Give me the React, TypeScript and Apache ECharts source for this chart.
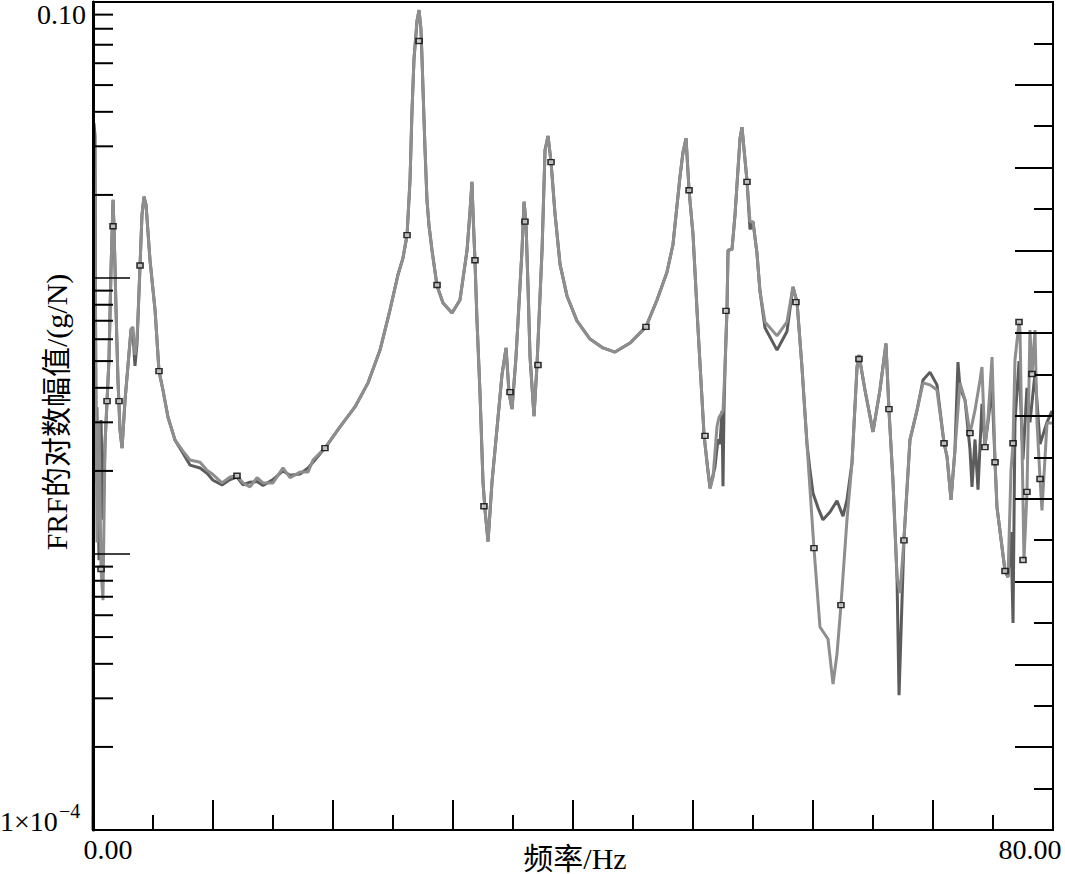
import React, { useEffect, useRef } from "react";
import * as echarts from "echarts";

// FRF magnitude (g/N) vs frequency (Hz), two measurements
const lightSeries: [number, number][] = [
  [0, 0.0001], [0.08, 0.0300], [0.17, 0.0134], [0.33, 0.0011], [0.5, 0.0030], [0.67, 0.000882],
  [0.83, 0.00068], [1.0, 0.0025], [1.17, 0.00358], [1.33, 0.00504], [1.5, 0.0107], [1.67, 0.0192],
  [1.75, 0.0154], [1.92, 0.00766], [2.08, 0.00427], [2.25, 0.00281], [2.42, 0.00242], [2.67, 0.00361],
  [2.92, 0.00484], [3.17, 0.00653], [3.33, 0.00665], [3.5, 0.00526], [3.67, 0.00601], [3.92, 0.0111],
  [4.08, 0.0169], [4.25, 0.0197], [4.42, 0.0184], [4.75, 0.0116], [5.17, 0.00766], [5.5, 0.0046],
  [5.83, 0.00393], [6.25, 0.00313], [6.83, 0.00259], [7.5, 0.00236], [8.08, 0.00219], [8.92, 0.00215],
  [9.5, 0.00201], [10.0, 0.00194], [10.75, 0.00181], [11.42, 0.0019], [12.0, 0.00192], [12.5, 0.00181],
  [13.08, 0.00175], [13.67, 0.00189], [14.17, 0.00181], [15.0, 0.00181], [15.83, 0.00205], [16.42, 0.00189],
  [17.25, 0.00198], [17.92, 0.00198], [18.33, 0.00219], [19.33, 0.00242], [20.58, 0.00289], [21.83, 0.00341],
  [22.92, 0.00417], [23.92, 0.00548], [24.75, 0.00766], [25.42, 0.0103], [25.83, 0.0118], [26.17, 0.0143],
  [26.42, 0.0227], [26.58, 0.0399], [26.75, 0.0622], [27.0, 0.0853], [27.17, 0.0935], [27.33, 0.0798],
  [27.42, 0.062], [27.5, 0.0484], [27.67, 0.0291], [27.83, 0.0192], [28.0, 0.0155], [28.25, 0.0126],
  [28.67, 0.00935], [29.17, 0.00812], [29.92, 0.00747], [30.58, 0.00832], [31.17, 0.0126], [31.42, 0.0175],
  [31.58, 0.0223], [31.67, 0.0171], [31.83, 0.0116], [32.0, 0.00699], [32.25, 0.00383], [32.5, 0.00182],
  [32.67, 0.00144], [32.92, 0.00111], [33.25, 0.00182], [33.67, 0.00286], [34.08, 0.00445], [34.42, 0.00558],
  [34.67, 0.00383], [34.92, 0.00335], [35.25, 0.00517], [35.75, 0.0126], [35.92, 0.0189], [36.08, 0.016],
  [36.25, 0.00935], [36.42, 0.00517], [36.75, 0.00316], [37.0, 0.00484], [37.42, 0.0126], [37.67, 0.0291],
  [37.92, 0.0327], [38.17, 0.0263], [38.5, 0.0171], [38.92, 0.0112], [39.5, 0.00861], [40.33, 0.00699],
  [41.42, 0.00601], [42.5, 0.00558], [43.5, 0.00539], [44.75, 0.00581], [46.08, 0.00665], [47.0, 0.00832],
  [47.83, 0.0105], [48.33, 0.0132], [48.92, 0.0234], [49.17, 0.0286], [49.42, 0.0321], [49.67, 0.0208],
  [50.0, 0.0144], [50.42, 0.00653], [50.92, 0.0027], [51.17, 0.00214], [51.42, 0.00173], [51.67, 0.0019],
  [52.0, 0.0029], [52.17, 0.00313], [52.5, 0.0033], [52.67, 0.00476], [52.83, 0.00766], [52.92, 0.0126],
  [53.25, 0.0127], [53.5, 0.0169], [53.92, 0.0321], [54.08, 0.0352], [54.5, 0.0225], [54.75, 0.016],
  [55.0, 0.016], [55.33, 0.0123], [55.58, 0.00897], [56.0, 0.00693], [57.0, 0.00617], [57.83, 0.00693],
  [58.33, 0.00928], [58.67, 0.00818], [59.08, 0.00476], [59.5, 0.0025], [60.08, 0.00105], [60.58, 0.000544],
  [61.25, 0.000492], [61.67, 0.000338], [62.0, 0.000434], [62.33, 0.000653], [62.83, 0.00133], [63.25, 0.00214],
  [63.67, 0.00476], [63.83, 0.00526], [64.33, 0.00393], [65.0, 0.00277], [65.58, 0.00393], [66.08, 0.00579],
  [66.33, 0.00332], [66.67, 0.00182], [67.0, 0.000825], [67.25, 0.000722], [67.58, 0.00113], [68.08, 0.00259],
  [68.67, 0.00332], [69.17, 0.00417], [69.75, 0.0041], [70.33, 0.00393], [70.92, 0.00252], [71.17, 0.00225],
  [71.5, 0.00157], [71.83, 0.00238], [72.25, 0.00417], [72.67, 0.00361], [73.08, 0.00272], [73.5, 0.00332],
  [73.92, 0.00427], [74.08, 0.00476], [74.33, 0.00246], [74.58, 0.00306], [74.92, 0.00517], [75.17, 0.00215],
  [75.33, 0.00148], [75.75, 0.00106], [76.0, 0.000868], [76.25, 0.000825], [76.5, 0.00201], [76.67, 0.00252],
  [76.83, 0.00504], [77.17, 0.00693], [77.25, 0.00648], [77.5, 0.00157], [77.58, 0.000951], [77.83, 0.00166],
  [78.08, 0.00648], [78.25, 0.00449], [78.5, 0.00648], [78.67, 0.00298], [78.92, 0.00187], [79.08, 0.00144],
  [79.5, 0.00298], [79.92, 0.00298],
];

const darkSeries: [number, number][] = [
  [0, 0.0001], [0.08, 0.0364], [0.17, 0.0327], [0.25, 0.00182], [0.33, 0.0034], [0.5, 0.00095],
  [0.67, 0.00306], [0.83, 0.00133], [1.0, 0.0025], [1.17, 0.00358], [1.33, 0.00504], [1.5, 0.0107],
  [1.67, 0.0192], [1.75, 0.0154], [1.92, 0.00766], [2.08, 0.00427], [2.25, 0.00281], [2.42, 0.00242],
  [2.67, 0.00361], [2.92, 0.00484], [3.17, 0.00653], [3.33, 0.0063], [3.5, 0.0048], [3.67, 0.0058],
  [3.92, 0.0111], [4.08, 0.0169], [4.25, 0.0197], [4.42, 0.0184], [4.75, 0.0116], [5.17, 0.00766],
  [5.5, 0.0046], [5.83, 0.00393], [6.25, 0.00313], [6.83, 0.00259], [7.5, 0.00232], [8.08, 0.0021],
  [8.92, 0.00205], [9.5, 0.00196], [10.0, 0.00185], [10.75, 0.00178], [11.42, 0.00186], [12.0, 0.0019],
  [12.5, 0.00178], [13.08, 0.00182], [13.67, 0.00183], [14.17, 0.00177], [15.0, 0.00186], [15.83, 0.002],
  [16.42, 0.00193], [17.25, 0.00195], [17.92, 0.00205], [18.33, 0.00215], [19.33, 0.00242], [20.58, 0.00289],
  [21.83, 0.00341], [22.92, 0.00417], [23.92, 0.00548], [24.75, 0.00766], [25.42, 0.0103], [25.83, 0.0118],
  [26.17, 0.0143], [26.42, 0.0227], [26.58, 0.0399], [26.75, 0.0622], [27.0, 0.0853], [27.17, 0.0935],
  [27.33, 0.0798], [27.42, 0.062], [27.5, 0.0484], [27.67, 0.0291], [27.83, 0.0192], [28.0, 0.0155],
  [28.25, 0.0126], [28.67, 0.00935], [29.17, 0.00812], [29.92, 0.00747], [30.58, 0.00832], [31.17, 0.0126],
  [31.42, 0.0175], [31.58, 0.0223], [31.67, 0.0171], [31.83, 0.0116], [32.0, 0.00699], [32.25, 0.00383],
  [32.5, 0.00182], [32.67, 0.00144], [32.92, 0.00111], [33.25, 0.00182], [33.67, 0.00286], [34.08, 0.00445],
  [34.42, 0.00558], [34.67, 0.00383], [34.92, 0.00335], [35.25, 0.00517], [35.75, 0.0126], [35.92, 0.0189],
  [36.08, 0.016], [36.25, 0.00935], [36.42, 0.00517], [36.75, 0.00316], [37.0, 0.00484], [37.42, 0.0126],
  [37.67, 0.0291], [37.92, 0.0327], [38.17, 0.0263], [38.5, 0.0171], [38.92, 0.0112], [39.5, 0.00861],
  [40.33, 0.00699], [41.42, 0.00601], [42.5, 0.00558], [43.5, 0.00539], [44.75, 0.00581], [46.08, 0.00665],
  [47.0, 0.00832], [47.83, 0.0105], [48.33, 0.0132], [48.92, 0.0234], [49.17, 0.0286], [49.42, 0.0321],
  [49.67, 0.0208], [50.0, 0.0144], [50.42, 0.00653], [50.92, 0.0027], [51.17, 0.00214], [51.42, 0.00173],
  [51.83, 0.00207], [52.08, 0.0026], [52.25, 0.0025], [52.42, 0.0033], [52.5, 0.00176], [52.58, 0.0033],
  [52.67, 0.00476], [52.83, 0.00766], [52.92, 0.0126], [53.25, 0.0127], [53.5, 0.0169], [53.92, 0.0321],
  [54.08, 0.0352], [54.5, 0.0225], [54.75, 0.015], [55.0, 0.016], [55.33, 0.0123], [55.58, 0.00897],
  [56.0, 0.0066], [57.0, 0.00548], [57.83, 0.0064], [58.33, 0.00928], [58.67, 0.00818], [59.08, 0.00476],
  [59.5, 0.0025], [59.75, 0.00201], [60.0, 0.00166], [60.42, 0.00147], [60.83, 0.00133], [61.42, 0.00142],
  [62.0, 0.00156], [62.5, 0.00137], [62.83, 0.00157], [63.25, 0.00214], [63.67, 0.00476], [63.83, 0.00526],
  [64.33, 0.00393], [65.0, 0.00277], [65.58, 0.00393], [66.08, 0.00579], [66.33, 0.00332], [66.67, 0.00182],
  [67.0, 0.000825], [67.17, 0.000308], [67.42, 0.000681], [67.58, 0.00113], [68.08, 0.00259], [68.67, 0.00332],
  [69.17, 0.00427], [69.75, 0.00456], [70.33, 0.0041], [70.92, 0.00252], [71.17, 0.00225], [71.5, 0.00157],
  [71.83, 0.00238], [72.08, 0.00496], [72.25, 0.004], [72.67, 0.00361], [73.08, 0.0024], [73.25, 0.00175],
  [73.5, 0.0026], [73.75, 0.00171], [74.08, 0.0035], [74.33, 0.00246], [74.58, 0.003], [74.92, 0.004],
  [75.17, 0.00215], [75.33, 0.00148], [75.75, 0.00106], [76.0, 0.000868], [76.25, 0.000825], [76.5, 0.0012],
  [76.67, 0.000562], [76.83, 0.003], [77.17, 0.005], [77.5, 0.0022], [77.83, 0.004], [78.08, 0.003],
  [78.5, 0.0045], [78.92, 0.0025], [79.5, 0.003], [79.92, 0.0033],
];

const markerPoints: [number, number][] = [
  [0.67, 0.000882], [1.17, 0.00358], [1.67, 0.0154], [2.17, 0.00358], [3.92, 0.0111], [5.5, 0.0046],
  [12.0, 0.00192], [19.33, 0.00242], [26.17, 0.0143], [27.17, 0.0722], [28.67, 0.00943], [31.83, 0.0116],
  [32.58, 0.00149], [34.75, 0.00386], [36.0, 0.016], [37.08, 0.00484], [38.17, 0.0263], [46.08, 0.00665],
  [49.67, 0.0208], [51.0, 0.00268], [52.75, 0.0076], [54.5, 0.0223], [58.58, 0.00818], [60.08, 0.00105],
  [62.33, 0.000653], [63.83, 0.00509], [66.33, 0.00335], [67.58, 0.00112], [70.92, 0.00252], [73.08, 0.00274],
  [74.33, 0.00244], [75.17, 0.00215], [76.0, 0.000868], [76.67, 0.00252], [77.17, 0.00693], [77.5, 0.000951],
  [77.83, 0.00168], [78.25, 0.00449], [78.92, 0.00187],
];

const minorLogTicks: number[] = [
  0.0002, 0.0003, 0.0004, 0.0005, 0.0006, 0.0007, 0.0008, 0.0009,
  0.002, 0.003, 0.004, 0.005, 0.006, 0.007, 0.008, 0.009,
  0.02, 0.03, 0.04, 0.05, 0.06, 0.07, 0.08, 0.09,
];

const xMin = 0;
const xMax = 80;
const xTickLabels = ["0.00", "80.00"];
const yTopLabel = "0.10";
const yBottomBase = "1×10";
const yBottomExp = "−4";
const xName = "频率/Hz";
const yName = "FRF的对数幅值/(g/N)";

const FONT = "'Liberation Serif', 'DejaVu Serif', 'Noto Sans CJK SC', serif";

export default function App() {
  const ref = useRef<HTMLDivElement>(null);
  useEffect(() => {
    if (!ref.current) return;
    document.body.style.margin = "0";
    const chart = echarts.init(ref.current, undefined, { renderer: "svg" });
    const option: any = {
      animation: false,
      backgroundColor: "#fff",
      grid: { left: 93, right: 12, top: 2, bottom: 44, show: true, borderColor: "#000", borderWidth: 2 },
      xAxis: {
        type: "value",
        min: xMin,
        max: xMax,
        interval: 10,
        z: 4,
        axisLine: { show: true, lineStyle: { color: "#000", width: 2 } },
        axisTick: { show: true, inside: true, length: 30, lineStyle: { color: "#000", width: 2 } },
        minorTick: { show: true, splitNumber: 2, length: 15, lineStyle: { color: "#000", width: 2 } },
        axisLabel: { show: false },
        splitLine: { show: false },
      },
      yAxis: [
        {
          type: "log",
          logBase: 10,
          min: 0.0001,
          max: 0.1,
          z: 4,
          axisLine: { show: true, lineStyle: { color: "#000", width: 3 } },
          axisTick: { show: true, inside: true, length: 37, lineStyle: { color: "#000", width: 1.5 } },
          axisLabel: { show: false },
          splitLine: { show: false },
        },
        {
          type: "value",
          min: 0,
          max: 20,
          interval: 2,
          position: "right",
          z: 4,
          axisLine: { show: true, lineStyle: { color: "#000", width: 2 } },
          axisTick: { show: true, inside: true, length: 38, lineStyle: { color: "#000", width: 2 } },
          minorTick: { show: true, splitNumber: 2, length: 19, lineStyle: { color: "#000", width: 2 } },
          axisLabel: { show: false },
          splitLine: { show: false },
        },
      ],
      series: [
        {
          type: "line",
          data: darkSeries,
          showSymbol: false,
          lineStyle: { color: "#5c5c5c", width: 3 },
          z: 2,
        },
        {
          type: "line",
          data: lightSeries,
          showSymbol: false,
          lineStyle: { color: "#8e8e8e", width: 3 },
          z: 3,
        },
        {
          type: "scatter",
          data: markerPoints,
          symbol: "rect",
          symbolSize: [6, 5],
          itemStyle: { color: "#c8c8c8", borderColor: "#000", borderWidth: 1.5 },
          z: 5,
        },
        {
          type: "custom",
          data: minorLogTicks.map((v) => [0, v]),
          z: 6,
          clip: false,
          renderItem: (params: any, api: any) => {
            const p = api.coord([0, api.value(1)]);
            return {
              type: "line",
              shape: { x1: p[0], y1: p[1], x2: p[0] + 20, y2: p[1] },
              style: { stroke: "#000", lineWidth: 2 },
            };
          },
        },
      ],
      graphic: [
        { type: "text", style: { text: yTopLabel, x: 86, y: 14, align: "right", verticalAlign: "middle", font: `28px ${FONT}`, fill: "#000" } },
        { type: "text", style: { text: yBottomBase, x: 0, y: 821, align: "left", verticalAlign: "middle", font: `28px ${FONT}`, fill: "#000" } },
        { type: "text", style: { text: yBottomExp, x: 59, y: 811, align: "left", verticalAlign: "middle", font: `20px ${FONT}`, fill: "#000" } },
        { type: "text", style: { text: xTickLabels[0], x: 108, y: 849, align: "center", verticalAlign: "middle", font: `28px ${FONT}`, fill: "#000" } },
        { type: "text", style: { text: xTickLabels[1], x: 1030, y: 849, align: "center", verticalAlign: "middle", font: `28px ${FONT}`, fill: "#000" } },
        { type: "text", style: { text: xName, x: 575, y: 858, align: "center", verticalAlign: "middle", font: `30px ${FONT}`, fill: "#000" } },
        { type: "text", x: 56, y: 412, rotation: Math.PI / 2, style: { text: yName, x: 0, y: 0, align: "center", verticalAlign: "middle", font: `30px ${FONT}`, fill: "#000" } },
      ],
    };
    chart.setOption(option);
    return () => chart.dispose();
  }, []);
  return <div ref={ref} style={{ position: "fixed", left: 0, top: 0, width: 1065, height: 874 }} />;
}
